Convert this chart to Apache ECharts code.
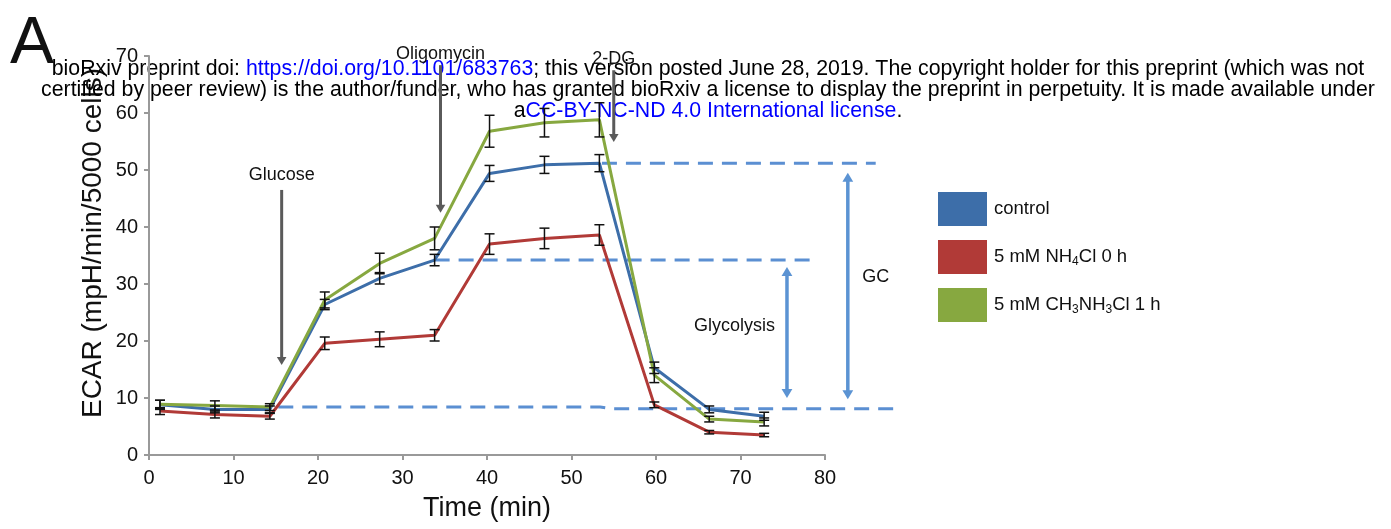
<!DOCTYPE html>
<html>
<head>
<meta charset="utf-8">
<script src="https://cdn.jsdelivr.net/npm/echarts@6/dist/echarts.min.js"></script>
<style>
html, body { margin: 0; padding: 0; background: #fff; }
#chart { width: 1391px; height: 529px; }
</style>
</head>
<body>
<div id="chart"></div>
<script>
// ECAR time course

const times = [1.3, 7.8, 14.3, 20.8, 27.3, 33.8, 40.3, 46.8, 53.3, 59.8, 66.3, 72.8];

const controlVals = [8.8, 8.0, 8.0, 26.4, 31.0, 34.2, 49.4, 50.9, 51.2, 15.3, 8.0, 6.8];
const controlErr  = [0.8, 0.6, 0.6, 0.9, 1.0, 1.0, 1.4, 1.5, 1.5, 1.0, 0.6, 0.7];

const nh4Vals = [7.7, 7.1, 6.8, 19.6, 20.3, 21.0, 37.0, 38.0, 38.6, 8.8, 4.0, 3.5];
const nh4Err  = [0.6, 0.6, 0.5, 1.1, 1.3, 1.0, 1.8, 1.8, 1.8, 0.5, 0.3, 0.3];

const ch3Vals = [8.9, 8.7, 8.4, 27.2, 33.6, 38.0, 56.8, 58.3, 58.8, 14.0, 6.3, 5.8];
const ch3Err  = [0.7, 0.8, 0.6, 1.4, 1.8, 2.0, 2.8, 2.5, 3.0, 1.3, 0.5, 0.7];

const seriesNames = ['control', '5 mM NH4Cl 0 h', '5 mM CH3NH3Cl 1 h'];
const legendLabels = ['control', '5 mM NH{s|4}Cl 0 h', '5 mM CH{s|3}NH{s|3}Cl 1 h'];
const seriesColors = ['#3d6ea9', '#b13a37', '#87a840'];

// dashed reference levels (x, y pairs)
const dashLines = [
  [[15.3, 8.4], [53.4, 8.4], [54.8, 8.1], [88.5, 8.1]],
  [[33.8, 34.2], [78.2, 34.2]],
  [[53.6, 51.2], [86.0, 51.2]]
];
// double arrows: [x, yTop, yBottom]
const rangeArrows = [[75.5, 33.0, 10.0], [82.7, 49.5, 9.8]];
const rangeLabels = [['Glycolysis', 69.3, 22.6], ['GC', 86.0, 31.2]];
// injection arrows: [name, x, yTop, yBottom, labelY]
const injections = [
  ['Glucose', 15.7, 46.5, 15.8, 49.1],
  ['Oligomycin', 34.5, 68.4, 42.5, 70.3],
  ['2-DG', 55.0, 67.5, 54.9, 69.4]
];

const FONT = 'Liberation Sans, Arial, sans-serif';

const chart = echarts.init(document.getElementById('chart'), null, { renderer: 'canvas' });

function arrowHead(p, dir, size, color) {
  // dir: 1 = pointing down, -1 = pointing up
  return {
    type: 'polygon',
    shape: { points: [[p[0] - size * 0.6, p[1] - dir * size], [p[0] + size * 0.6, p[1] - dir * size], [p[0], p[1]]] },
    style: { fill: color }
  };
}

const errorData = [];
[controlVals, nh4Vals, ch3Vals].forEach((vals, si) => {
  const errs = [controlErr, nh4Err, ch3Err][si];
  vals.forEach((v, i) => errorData.push([times[i], v - errs[i], v + errs[i]]));
});

const lineSeries = seriesNames.map((name, i) => ({
  name: name,
  type: 'line',
  data: times.map((t, k) => [t, [controlVals, nh4Vals, ch3Vals][i][k]]),
  showSymbol: false,
  symbol: 'none',
  lineStyle: { color: seriesColors[i], width: 3 },
  itemStyle: { color: seriesColors[i] },
  z: 3
}));

const linkRich = { l: { fontSize: 21.3, fontFamily: FONT, fill: '#0000ff', color: '#0000ff' } };

const option = {
  animation: false,
  backgroundColor: '#fff',
  grid: { left: 149, right: 566, top: 56, bottom: 74 },
  xAxis: {
    type: 'value', min: 0, max: 80, interval: 10,
    name: 'Time (min)', nameLocation: 'middle', nameGap: 40,
    nameTextStyle: { fontSize: 27, color: '#111', fontFamily: FONT },
    axisLine: { show: true, lineStyle: { color: '#999', width: 2 } },
    axisTick: { show: true, length: 5, lineStyle: { color: '#999', width: 2 } },
    axisLabel: { fontSize: 20, color: '#111', fontFamily: FONT, margin: 13 },
    splitLine: { show: false }
  },
  yAxis: {
    type: 'value', min: 0, max: 70, interval: 10,
    axisLine: { show: true, lineStyle: { color: '#999', width: 2 } },
    axisTick: { show: true, length: 5, lineStyle: { color: '#999', width: 2 } },
    axisLabel: { fontSize: 20, color: '#111', fontFamily: FONT, margin: 11 },
    splitLine: { show: false }
  },
  legend: {
    data: seriesNames,
    orient: 'vertical',
    left: 933, top: 187,
    icon: 'rect',
    itemWidth: 49, itemHeight: 34, itemGap: 14,
    formatter: name => legendLabels[seriesNames.indexOf(name)],
    textStyle: {
      fontSize: 18.5, color: '#111', fontFamily: FONT, padding: [0, 0, 0, 2],
      rich: { s: { fontSize: 12, fontFamily: FONT, color: '#111', padding: [9, 0, 0, 0] } }
    }
  },
  graphic: [
    { type: 'text', left: 10, top: 12, style: { text: 'A', fontSize: 66, fontFamily: FONT, fill: '#111' } },
    {
      type: 'text', x: 93, y: 243, rotation: Math.PI / 2,
      style: { text: 'ECAR (mpH/min/5000 cells)', fontSize: 28, fontFamily: FONT, fill: '#111', textAlign: 'center', textVerticalAlign: 'middle' }
    },
    {
      type: 'group', x: 708, y: 59, z: 100,
      children: [
        { type: 'text', x: 0, y: 0, style: { text: 'bioRxiv preprint doi: {l|https://doi.org/10.1101/683763}; this version posted June 28, 2019. The copyright holder for this preprint (which was not', fontSize: 21.3, fontFamily: FONT, fill: '#000', textAlign: 'center', rich: linkRich } },
        { type: 'text', x: 0, y: 21, style: { text: 'certified by peer review) is the author/funder, who has granted bioRxiv a license to display the preprint in perpetuity. It is made available under', fontSize: 21.3, fontFamily: FONT, fill: '#000', textAlign: 'center' } },
        { type: 'text', x: 0, y: 42, style: { text: 'a{l|CC-BY-NC-ND 4.0 International license}.', fontSize: 21.3, fontFamily: FONT, fill: '#000', textAlign: 'center', rich: linkRich } }
      ]
    }
  ],
  series: [
    // annotations: dashed levels, range arrows, labels, injections
    {
      name: 'annotations',
      type: 'custom',
      clip: false,
      silent: true,
      data: [0],
      z: 1,
      renderItem: (params, api) => {
        const children = [];
        dashLines.forEach(seg => {
          children.push({
            type: 'polyline',
            shape: { points: seg.map(p => api.coord(p)) },
            style: { stroke: '#5b8fd2', lineWidth: 3, lineDash: [15, 9], fill: null }
          });
        });
        rangeArrows.forEach(a => {
          const top = api.coord([a[0], a[1]]);
          const bot = api.coord([a[0], a[2]]);
          children.push({ type: 'line', shape: { x1: top[0], y1: top[1] + 6, x2: bot[0], y2: bot[1] - 6 }, style: { stroke: '#5b93d3', lineWidth: 3.5 } });
          children.push(arrowHead(top, -1, 9, '#5b93d3'));
          children.push(arrowHead(bot, 1, 9, '#5b93d3'));
        });
        rangeLabels.forEach(l => {
          const p = api.coord([l[1], l[2]]);
          children.push({ type: 'text', x: p[0], y: p[1], style: { text: l[0], fontSize: 18, fontFamily: FONT, fill: '#111', textAlign: 'center', textVerticalAlign: 'middle' } });
        });
        injections.forEach(inj => {
          const top = api.coord([inj[1], inj[2]]);
          const bot = api.coord([inj[1], inj[3]]);
          const lab = api.coord([inj[1], inj[4]]);
          children.push({ type: 'line', shape: { x1: top[0], y1: top[1], x2: bot[0], y2: bot[1] - 6 }, style: { stroke: '#5a5a5a', lineWidth: 3 } });
          children.push(arrowHead(bot, 1, 8, '#5a5a5a'));
          children.push({ type: 'text', x: lab[0], y: lab[1], style: { text: inj[0], fontSize: 18, fontFamily: FONT, fill: '#111', textAlign: 'center', textVerticalAlign: 'middle' } });
        });
        return { type: 'group', children: children };
      }
    },
    ...lineSeries,
    {
      name: 'errors',
      type: 'custom',
      clip: false,
      silent: true,
      z: 5,
      data: errorData,
      encode: { x: 0, y: [1, 2] },
      renderItem: (params, api) => {
        const lo = api.coord([api.value(0), api.value(1)]);
        const hi = api.coord([api.value(0), api.value(2)]);
        const w = 5;
        return {
          type: 'group',
          children: [
            { type: 'line', shape: { x1: lo[0], y1: lo[1], x2: hi[0], y2: hi[1] }, style: { stroke: '#111', lineWidth: 1.5 } },
            { type: 'line', shape: { x1: lo[0] - w, y1: lo[1], x2: lo[0] + w, y2: lo[1] }, style: { stroke: '#111', lineWidth: 1.5 } },
            { type: 'line', shape: { x1: hi[0] - w, y1: hi[1], x2: hi[0] + w, y2: hi[1] }, style: { stroke: '#111', lineWidth: 1.5 } }
          ]
        };
      }
    }
  ]
};

chart.setOption(option);
</script>
</body>
</html>
